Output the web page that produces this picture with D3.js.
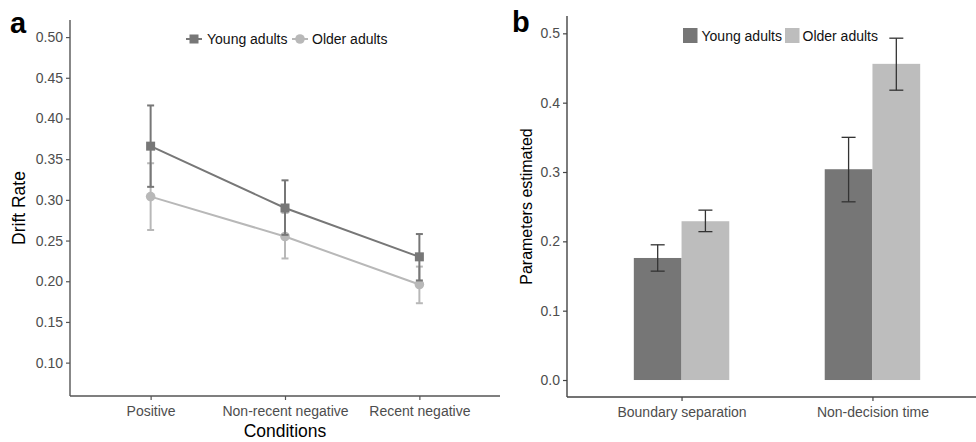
<!DOCTYPE html>
<html>
<head>
<meta charset="utf-8">
<script src="https://cdn.jsdelivr.net/npm/d3@7"></script>
<style>
  body { margin: 0; background: #fff; }
  svg { font-family: "Liberation Sans", Arial, sans-serif; }
  .tick text { fill: #4d4d4d; font-size: 14px; }
</style>
</head>
<body>
<div id="chart"></div>
<script>
var svgWidth = 976;
var svgHeight = 442;

// panel a: drift rate per condition
var conditions = ["Positive", "Non-recent negative", "Recent negative"];
var youngDrift = [0.366, 0.290, 0.230];
var youngDriftLo = [0.316, 0.257, 0.201];
var youngDriftHi = [0.416, 0.324, 0.258];
var olderDrift = [0.304, 0.255, 0.196];
var olderDriftLo = [0.263, 0.228, 0.173];
var olderDriftHi = [0.345, 0.284, 0.218];
var driftTicks = [0.10, 0.15, 0.20, 0.25, 0.30, 0.35, 0.40, 0.45, 0.50];

// panel b: estimated parameters
var parameters = ["Boundary separation", "Non-decision time"];
var youngParam = [0.176, 0.304];
var youngParamLo = [0.157, 0.257];
var youngParamHi = [0.195, 0.350];
var olderParam = [0.229, 0.456];
var olderParamLo = [0.214, 0.418];
var olderParamHi = [0.245, 0.493];
var paramTicks = [0.0, 0.1, 0.2, 0.3, 0.4, 0.5];

var groups = ["Young adults", "Older adults"];
var lineColors = ["#777777", "#b8b8b8"];
var barColors = ["#767676", "#bdbdbd"];

var svg = d3.select("#chart")
  .append("svg")
  .attr("width", svgWidth)
  .attr("height", svgHeight);

// ---------- panel a ----------
var aLeft = 70, aRight = 500, aTop = 20, aBottom = 396;

var xA = d3.scalePoint()
  .domain(conditions)
  .range([aLeft, aRight])
  .padding(0.6);

var yA = d3.scaleLinear()
  .domain([0.059, 0.521])
  .range([aBottom, aTop]);

var gA = svg.append("g");

var yAxisA = gA.append("g")
  .attr("transform", `translate(${aLeft},0)`)
  .call(d3.axisLeft(yA).tickValues(driftTicks).tickFormat(d3.format(".2f")).tickSize(4).tickPadding(3).tickSizeOuter(0));

var xAxisA = gA.append("g")
  .attr("transform", `translate(0,${aBottom})`)
  .call(d3.axisBottom(xA).tickSize(4).tickPadding(6).tickSizeOuter(0));

[yAxisA, xAxisA].forEach(function(ax) {
  ax.select(".domain").attr("stroke", "#555").attr("stroke-width", 1.4);
  ax.selectAll(".tick line").attr("stroke", "#555").attr("stroke-width", 1.2);
});
// stretch axis lines to the corner
yAxisA.select(".domain").attr("d", `M0,${aBottom - aTop + aTop}V${aTop}`).attr("d", `M0,${aBottom}V${aTop}`);
yAxisA.select(".domain").attr("d", `M0,${aBottom}V${aTop}`);
xAxisA.select(".domain").attr("d", `M${aLeft},0H${aRight}`);

function drawSeries(vals, lo, hi, color, shape) {
  var pts = conditions.map((c, i) => ({c: c, v: vals[i], lo: lo[i], hi: hi[i]}));
  gA.append("path")
    .datum(pts)
    .attr("fill", "none")
    .attr("stroke", color)
    .attr("stroke-width", 2)
    .attr("d", d3.line().x(d => xA(d.c)).y(d => yA(d.v)));

  var eb = gA.append("g").selectAll("g")
    .data(pts)
    .enter()
    .append("g")
    .attr("stroke", color)
    .attr("stroke-width", 2);
  eb.append("line")
    .attr("x1", d => xA(d.c)).attr("x2", d => xA(d.c))
    .attr("y1", d => yA(d.lo)).attr("y2", d => yA(d.hi));
  eb.append("line")
    .attr("x1", d => xA(d.c) - 3.5).attr("x2", d => xA(d.c) + 3.5)
    .attr("y1", d => yA(d.lo)).attr("y2", d => yA(d.lo));
  eb.append("line")
    .attr("x1", d => xA(d.c) - 3.5).attr("x2", d => xA(d.c) + 3.5)
    .attr("y1", d => yA(d.hi)).attr("y2", d => yA(d.hi));

  if (shape === "square") {
    gA.append("g").selectAll("rect")
      .data(pts)
      .enter()
      .append("rect")
      .attr("x", d => xA(d.c) - 4.5)
      .attr("y", d => yA(d.v) - 4.5)
      .attr("width", 9)
      .attr("height", 9)
      .attr("fill", color);
  } else {
    gA.append("g").selectAll("circle")
      .data(pts)
      .enter()
      .append("circle")
      .attr("cx", d => xA(d.c))
      .attr("cy", d => yA(d.v))
      .attr("r", 4.8)
      .attr("fill", color);
  }
}

drawSeries(olderDrift, olderDriftLo, olderDriftHi, lineColors[1], "circle");
drawSeries(youngDrift, youngDriftLo, youngDriftHi, lineColors[0], "square");

// legend a
var legA = gA.append("g").attr("transform", "translate(0,39)");
legA.append("line").attr("x1", 186).attr("x2", 202).attr("stroke", lineColors[0]).attr("stroke-width", 2);
legA.append("rect").attr("x", 189.5).attr("y", -4.5).attr("width", 9).attr("height", 9).attr("fill", lineColors[0]);
legA.append("text").attr("x", 207).attr("y", 5).attr("font-size", 14).attr("fill", "#111").text(groups[0]);
legA.append("line").attr("x1", 292).attr("x2", 308).attr("stroke", lineColors[1]).attr("stroke-width", 2);
legA.append("circle").attr("cx", 300).attr("cy", 0).attr("r", 4.8).attr("fill", lineColors[1]);
legA.append("text").attr("x", 312).attr("y", 5).attr("font-size", 14).attr("fill", "#111").text(groups[1]);

// titles a
gA.append("text")
  .attr("transform", `translate(25,${(aTop + aBottom) / 2}) rotate(-90)`)
  .attr("text-anchor", "middle")
  .attr("font-size", 17.5)
  .attr("fill", "#000")
  .text("Drift Rate");
gA.append("text")
  .attr("x", (aLeft + aRight) / 2)
  .attr("y", 437)
  .attr("text-anchor", "middle")
  .attr("font-size", 17.5)
  .attr("fill", "#000")
  .text("Conditions");
gA.append("text")
  .attr("x", 10)
  .attr("y", 33)
  .attr("font-size", 29)
  .attr("font-weight", "bold")
  .text("a");

// ---------- panel b ----------
var bLeft = 567, bRight = 987, bTop = 16, bBottom = 397;

var xB = d3.scalePoint()
  .domain(parameters)
  .range([bLeft, bRight])
  .padding(0.6);
var stepB = xB.step();
var barW = stepB * 0.25;

var yB = d3.scaleLinear()
  .domain([-0.0245, 0.525])
  .range([bBottom, bTop]);

var gB = svg.append("g");

var yAxisB = gB.append("g")
  .attr("transform", `translate(${bLeft},0)`)
  .call(d3.axisLeft(yB).tickValues(paramTicks).tickFormat(d3.format(".1f")).tickSize(4).tickPadding(3).tickSizeOuter(0));
var xAxisB = gB.append("g")
  .attr("transform", `translate(0,${bBottom})`)
  .call(d3.axisBottom(xB).tickSize(4).tickPadding(6).tickSizeOuter(0));

[yAxisB, xAxisB].forEach(function(ax) {
  ax.select(".domain").attr("stroke", "#444").attr("stroke-width", 1.4);
  ax.selectAll(".tick line").attr("stroke", "#444").attr("stroke-width", 1.2);
});
yAxisB.select(".domain").attr("d", `M0,${bBottom}V${bTop}`);
xAxisB.select(".domain").attr("d", `M${bLeft},0H${bRight}`);

var barData = [];
parameters.forEach(function(p, i) {
  barData.push({p: p, g: 0, v: youngParam[i], lo: youngParamLo[i], hi: youngParamHi[i]});
  barData.push({p: p, g: 1, v: olderParam[i], lo: olderParamLo[i], hi: olderParamHi[i]});
});

var barX = d => xB(d.p) + (d.g === 0 ? -barW : 0);

gB.append("g").selectAll("rect")
  .data(barData)
  .enter()
  .append("rect")
  .attr("x", barX)
  .attr("y", d => yB(d.v))
  .attr("width", barW)
  .attr("height", d => yB(0) - yB(d.v))
  .attr("fill", d => barColors[d.g]);

var ebB = gB.append("g").selectAll("g")
  .data(barData)
  .enter()
  .append("g")
  .attr("stroke", "#333")
  .attr("stroke-width", 1.3);
ebB.append("line")
  .attr("x1", d => barX(d) + barW / 2).attr("x2", d => barX(d) + barW / 2)
  .attr("y1", d => yB(d.lo)).attr("y2", d => yB(d.hi));
ebB.append("line")
  .attr("x1", d => barX(d) + barW / 2 - 7).attr("x2", d => barX(d) + barW / 2 + 7)
  .attr("y1", d => yB(d.lo)).attr("y2", d => yB(d.lo));
ebB.append("line")
  .attr("x1", d => barX(d) + barW / 2 - 7).attr("x2", d => barX(d) + barW / 2 + 7)
  .attr("y1", d => yB(d.hi)).attr("y2", d => yB(d.hi));

// legend b
var legB = gB.append("g").attr("transform", "translate(0,35.5)");
legB.append("rect").attr("x", 683).attr("y", -7.5).attr("width", 14.5).attr("height", 15).attr("fill", barColors[0]);
legB.append("text").attr("x", 701.5).attr("y", 5).attr("font-size", 14).attr("fill", "#111").text(groups[0]);
legB.append("rect").attr("x", 785).attr("y", -7.5).attr("width", 14.5).attr("height", 15).attr("fill", barColors[1]);
legB.append("text").attr("x", 802.5).attr("y", 5).attr("font-size", 14).attr("fill", "#111").text(groups[1]);

gB.append("text")
  .attr("transform", `translate(532,${(bTop + bBottom) / 2}) rotate(-90)`)
  .attr("text-anchor", "middle")
  .attr("font-size", 16)
  .attr("fill", "#000")
  .text("Parameters estimated");
gB.append("text")
  .attr("x", 512)
  .attr("y", 32)
  .attr("font-size", 29)
  .attr("font-weight", "bold")
  .text("b");
</script>
</body>
</html>
